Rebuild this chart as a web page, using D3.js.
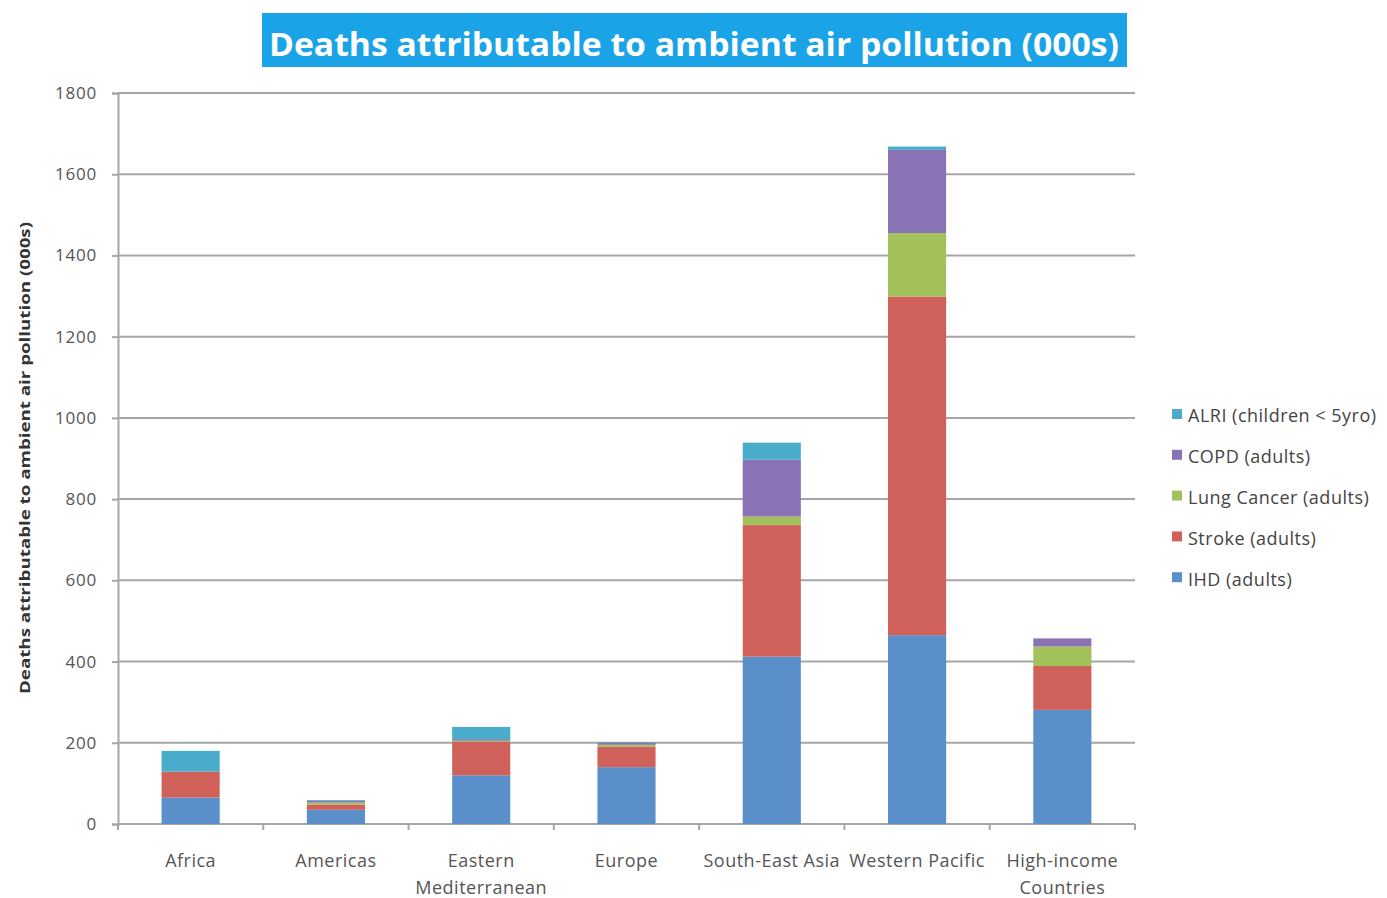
<!DOCTYPE html>
<html>
<head>
<meta charset="utf-8">
<script src="https://cdn.jsdelivr.net/npm/d3@7"></script>
<style>
  html, body { margin: 0; padding: 0; background: #fff; }
  svg { display: block; font-family: "Open Sans", Lato, sans-serif; }
</style>
</head>
<body>
<svg id="chart" width="1387" height="898"></svg>
<script>
// Regions (x axis), two-line labels split on "\n"
const regions = ["Africa", "Americas", "Eastern\nMediterranean", "Europe",
                 "South-East Asia", "Western Pacific", "High-income\nCountries"];

// Deaths (000s) by cause, one value per region
const ihd        = [65, 35, 120, 140, 412, 465, 281];
const stroke     = [64, 13, 82, 50, 324, 834, 108];
const lungCancer = [0, 5, 3, 5, 21, 156, 48];
const copd       = [0, 4, 4, 5, 140, 205, 20];
const alri       = [51, 2, 30, 1, 42, 8, 0];

const seriesNames = ["IHD (adults)", "Stroke (adults)", "Lung Cancer (adults)",
                     "COPD (adults)", "ALRI (children < 5yro)"];
const seriesColors = ["#5b8fca", "#d0615a", "#a3c15b", "#8a73b4", "#4aaccb"];

const yTicks = [0, 200, 400, 600, 800, 1000, 1200, 1400, 1600, 1800];

const keys = ["ihd", "stroke", "lung", "copd", "alri"];
const table = regions.map((r, i) => ({
  region: r, ihd: ihd[i], stroke: stroke[i], lung: lungCancer[i], copd: copd[i], alri: alri[i]
}));

const svg = d3.select("#chart");
const plot = { left: 118, right: 1135, top: 93, bottom: 824 };

const x = d3.scaleBand().domain(regions).range([plot.left, plot.right]).paddingInner(0.6).paddingOuter(0.3);
const xEdges = d3.scaleBand().domain(regions).range([plot.left, plot.right]);
const y = d3.scaleLinear().domain([0, 1800]).range([plot.bottom, plot.top]);

// Title banner
const titleG = svg.append("g");
titleG.append("rect").attr("x", 262).attr("y", 13).attr("width", 865).attr("height", 54).attr("fill", "#1aa3e6");
titleG.append("text").attr("x", 694).attr("y", 56).attr("text-anchor", "middle")
  .attr("fill", "#fff").attr("font-size", 33).attr("font-weight", "bold")
  .attr("textLength", 850).attr("lengthAdjust", "spacingAndGlyphs")
  .text("Deaths attributable to ambient air pollution (000s)");

// Horizontal gridlines
svg.append("g").selectAll("line").data(yTicks.filter(d => d > 0)).join("line")
  .attr("x1", plot.left).attr("x2", plot.right)
  .attr("y1", d => y(d)).attr("y2", d => y(d))
  .attr("stroke", "#a6a6a6").attr("stroke-width", 2);

// Y axis
const yAxis = svg.append("g").attr("transform", `translate(${plot.left},0)`)
  .call(d3.axisLeft(y).tickValues(yTicks).tickFormat(d3.format("d")).tickSize(6).tickPadding(15));
yAxis.select(".domain").attr("stroke", "#a6a6a6").attr("stroke-width", 2);
yAxis.selectAll(".tick line").attr("stroke", "#a6a6a6").attr("stroke-width", 2);
yAxis.selectAll("text").attr("fill", "#555").attr("font-size", 17).attr("letter-spacing", 0.8)
  .attr("font-family", "'Open Sans', sans-serif");

// X axis with tick marks at category boundaries
const xAxisG = svg.append("g");
xAxisG.append("line").attr("x1", plot.left).attr("x2", plot.right)
  .attr("y1", plot.bottom).attr("y2", plot.bottom).attr("stroke", "#a6a6a6").attr("stroke-width", 2);
const edges = regions.map(r => xEdges(r)).concat([plot.right]);
xAxisG.selectAll("line.tk").data(edges).join("line").attr("class", "tk")
  .attr("x1", d => d).attr("x2", d => d).attr("y1", plot.bottom).attr("y2", plot.bottom + 6)
  .attr("stroke", "#a6a6a6").attr("stroke-width", 2);
xAxisG.selectAll("text").data(regions).join("text")
  .attr("x", d => xEdges(d) + xEdges.bandwidth() / 2).attr("y", 867)
  .attr("text-anchor", "middle").attr("fill", "#555").attr("font-size", 18).attr("letter-spacing", 0.5)
  .each(function(d) {
    const t = d3.select(this);
    d.split("\n").forEach((line, i) => {
      t.append("tspan").attr("x", xEdges(d) + xEdges.bandwidth() / 2).attr("dy", i === 0 ? 0 : 27).text(line);
    });
  });

// Y axis title
svg.append("text").attr("transform", "translate(30,458) rotate(-90)")
  .attr("text-anchor", "middle").attr("fill", "#333").attr("font-size", 15).attr("font-weight", "bold")
  .attr("textLength", 472).attr("lengthAdjust", "spacingAndGlyphs")
  .text("Deaths attributable to ambient air pollution (000s)");

// Stacked bars
const stacked = d3.stack().keys(keys)(table);
svg.append("g").selectAll("g").data(stacked).join("g")
  .attr("fill", (d, i) => seriesColors[i])
  .selectAll("rect").data(d => d).join("rect")
  .attr("x", d => x(d.data.region)).attr("width", x.bandwidth())
  .attr("y", d => y(d[1])).attr("height", d => y(d[0]) - y(d[1]));

// Legend (top entry is the top of the stack)
const legendOrder = [4, 3, 2, 1, 0];
const legend = svg.append("g").selectAll("g").data(legendOrder).join("g")
  .attr("transform", (d, i) => `translate(1172,${416 + i * 40.8})`);
legend.append("rect").attr("x", 0).attr("y", -7).attr("width", 10).attr("height", 10)
  .attr("fill", d => seriesColors[d]);
legend.append("text").attr("x", 16).attr("y", 0).attr("dy", "0.35em")
  .attr("fill", "#444").attr("font-size", 18).attr("letter-spacing", 0.5).text(d => seriesNames[d]);
</script>
</body>
</html>
